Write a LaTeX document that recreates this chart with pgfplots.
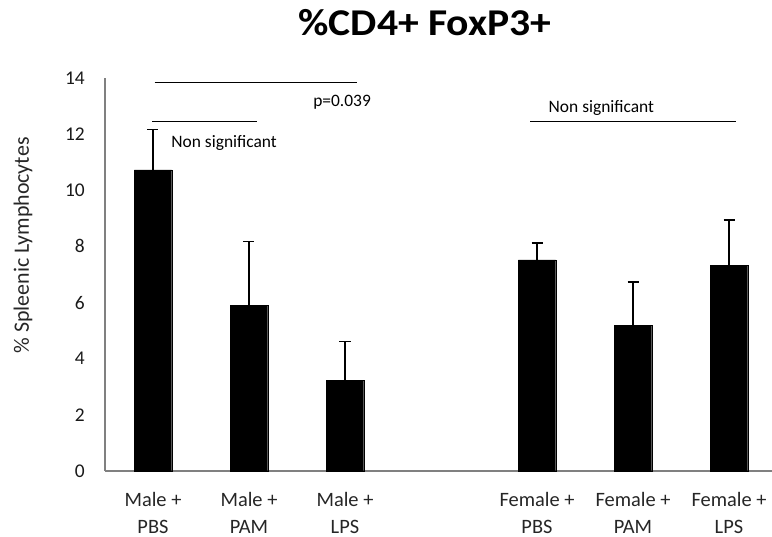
\documentclass[border=0pt]{standalone}
\usepackage{fontspec}
\setmainfont{Carlito}
\newfontfamily\titlefont{Carlito}[FakeStretch=1.1]
\usepackage{pgfplots}
\pgfplotsset{compat=1.18}
\pgfplotstableread{
x y err
0 10.73 1.43
1 5.89 2.28
2 3.24 1.37
4 7.52 0.60
5 5.20 1.53
6 7.32 1.63
}\datatable
\begin{document}
\begin{tikzpicture}
\begin{axis}[
  at={(0,0)}, anchor=south west,
  width=667bp, height=393bp, scale only axis,
  xmin=-0.5, xmax=6.448, ymin=0, ymax=14,
  ybar, bar width=0.39,
  axis x line*=bottom, axis y line*=left,
  axis line style={black!50, line width=1.2bp},
  major tick length=0pt,
  xtick={0,1,2,4,5,6},
  xticklabels={{Male +\\PBS},{Male +\\PAM},{Male +\\LPS},{Female +\\PBS},{Female +\\PAM},{Female +\\LPS}},
  xticklabel style={align=center, font=\fontsize{20.5}{27}\selectfont, text=black!85, inner sep=0pt, yshift=-21bp},
  ytick={0,2,...,14},
  yticklabel style={font=\fontsize{19.5}{22}\selectfont, text=black!90, inner sep=0pt, xshift=-20bp},
  /pgf/number format/assume math mode=true,
  ylabel={\% Spleenic Lymphocytes},
  ylabel style={at={(axis description cs:-0.123,0.574)}, anchor=center, font=\fontsize{22}{24}\selectfont, text=black!85},
  clip=false,
]
\addplot[fill=black, draw=black,
  error bars/.cd, y dir=plus, y explicit,
  error bar style={line width=1.6bp, black},
  error mark options={rotate=90, mark size=5.5bp, line width=1.6bp, black}]
  table[x=x, y=y, y error=err]{\datatable};
\draw[line width=1.6bp] (axis cs:0.016,13.84) -- (axis cs:2.13,13.84);
\node[font=\fontsize{17.5}{19}\selectfont] at (axis cs:1.97,13.13) {p=0.039};
\draw[line width=1.6bp] (axis cs:-0.01,12.45) -- (axis cs:1.085,12.45);
\node[anchor=west, inner sep=0pt, font=\fontsize{17.5}{19}\selectfont] at (axis cs:0.19,11.68) {Non significant};
\draw[line width=1.6bp] (axis cs:3.93,12.45) -- (axis cs:6.075,12.45);
\node[anchor=west, inner sep=0pt, font=\fontsize{17.5}{19}\selectfont] at (axis cs:4.12,12.94) {Non significant};
\end{axis}
\node[anchor=base, font=\titlefont\bfseries\fontsize{38}{40}\selectfont] at (320bp,435bp) {\%CD4+ FoxP3+};
\pgfresetboundingbox
\useasboundingbox (-105bp,-66bp) rectangle (667bp,471bp);
\end{tikzpicture}
\end{document}
